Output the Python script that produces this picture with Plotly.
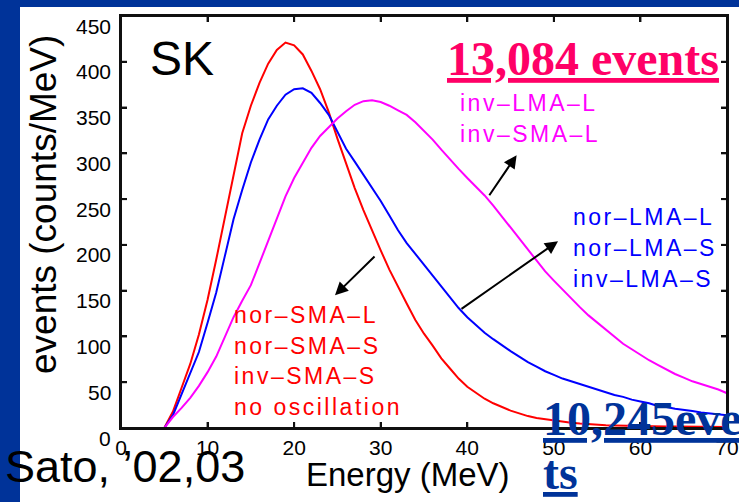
import plotly.graph_objects as go

# ---------------- data ----------------
energy = list(range(5, 71))

no_osc = [0, 18, 44, 70, 102, 140, 184, 230, 273, 322, 352, 377, 398, 413, 421, 418, 408, 390, 370, 345,
          316, 289, 262, 238, 215, 194, 173, 154, 136, 118, 103, 90, 76, 65, 54, 45, 38, 32, 27, 23,
          19, 16, 13, 11, 9.5, 8, 6.8, 5.8, 4.8, 4, 3.4, 3, 2.7, 2.4, 2.2, 2, 1.9, 1.8, 1.7, 1.6,
          1.5, 1.4, 1.3, 1.2, 1.1, 1]

nor_lma = [0, 14, 37, 60, 83, 115, 148, 188, 228, 260, 290, 315, 337, 352, 364, 370, 371, 366, 355, 342,
           324, 305, 291, 277, 263, 248, 232, 216, 202, 190, 178, 166, 154, 142, 131, 121, 112, 104, 97, 90,
           84, 78, 72, 67, 62, 58, 54, 51, 48, 45, 42, 39, 36, 34, 31, 29, 27, 24, 23, 21,
           20, 18.5, 17, 16, 15, 14]

inv_l = [0, 12, 22, 33, 46, 61, 78, 99, 121, 139, 156, 180, 205, 230, 253, 273, 290, 306, 319, 329,
         338, 346, 353, 357, 358, 356, 352, 347, 342, 334, 325, 315, 304, 293, 283, 273, 264, 254, 243, 231,
         219, 206, 194, 182, 171, 161, 151, 141, 132, 123, 115, 107, 99, 92, 86, 80, 74, 69, 64, 59,
         55, 51, 48, 45, 42, 38]

x_ticks = [0, 10, 20, 30, 40, 50, 60, 70]
y_ticks = [0, 50, 100, 150, 200, 250, 300, 350, 400, 450]

magenta_labels = ["inv–LMA–L", "inv–SMA–L"]
blue_labels = ["nor–LMA–L", "nor–LMA–S", "inv–LMA–S"]
red_labels = ["nor–SMA–L", "nor–SMA–S", "inv–SMA–S", "no oscillation"]

# label placement (data units): x, first-line y, line step
mag_pos = (38.9, 355.5, -33.9)
blue_pos = (51.98, 231.0, -33.9)
red_pos = (12.85, 122.9, -33.3)

# arrows: (tip_x, tip_y, tail_x, tail_y) in data units
arrows = [(24.72, 145, 29.46, 189),
          (50.48, 204, 39.16, 129),
          (45.7, 298, 42.43, 252.6)]

# ---------------- style ----------------
SLIDE_BLUE = "#003399"
INK = "#101010"
SANS = "Liberation Sans, Arial, sans-serif"
SERIF = "Liberation Serif, Times New Roman, serif"

W, H = 739, 502
ML, MR, MT, MB = 121, 12, 16, 74
PW, PH = W - ML - MR, H - MT - MB
TICK = 6   # px
LW = 2     # frame / tick thickness, px
X0, X1 = x_ticks[0], x_ticks[-1]
Y0, Y1 = y_ticks[0], y_ticks[-1]

fig = go.Figure()
for ys, col in [(no_osc, "#ff0000"), (nor_lma, "#0000ff"), (inv_l, "#ff00ff")]:
    fig.add_trace(go.Scatter(x=energy, y=ys, mode="lines",
                             line=dict(color=col, width=2), hoverinfo="skip"))


def px2paper(px, py):
    return (px - ML) / PW, (H - MB - py) / PH


ann = []

# y tick labels (drawn slightly below their ticks, as in the reference)
for v in y_ticks:
    ann.append(dict(x=0, y=v, xref="paper", yref="y", xanchor="right", yanchor="middle",
                    xshift=-8, yshift=-10, text=str(v), showarrow=False,
                    font=dict(family=SANS, size=21, color="black")))


def label_group(lines, pos, color):
    x0, y0, dy = pos
    for i, t in enumerate(lines):
        ann.append(dict(x=x0, y=y0 + i * dy, xref="x", yref="y", xanchor="left", yanchor="middle",
                        text='<span style="letter-spacing:2.5px">%s</span>' % t, showarrow=False,
                        font=dict(family=SANS, size=23, color=color)))


label_group(magenta_labels, mag_pos, "#ff00ff")
label_group(blue_labels, blue_pos, "#0000ff")
label_group(red_labels, red_pos, "#ff0000")

for ax_, ay_, sx, sy in arrows:
    ann.append(dict(x=ax_, y=ay_, ax=sx, ay=sy, xref="x", yref="y", axref="x", ayref="y",
                    text="", showarrow=True, arrowhead=2, arrowsize=1.3, arrowwidth=2,
                    arrowcolor="black"))

ann.append(dict(x=3.1, y=404.1, xref="x", yref="y", xanchor="left", yanchor="middle",
                text="SK", showarrow=False, font=dict(family=SANS, size=48, color="black")))

ann.append(dict(x=37.4, y=404.1, xref="x", yref="y", xanchor="left", yanchor="middle",
                text="<b><u>13,084 events</u></b>", showarrow=False,
                font=dict(family=SERIF, size=48, color="#ff0066")))

px_, py_ = px2paper(541, 418)
ann.append(dict(x=px_, y=py_, xref="paper", yref="paper", xanchor="left", yanchor="middle",
                text="<b><u>10,245eve</u></b>", showarrow=False,
                font=dict(family=SERIF, size=48, color=SLIDE_BLUE)))
px_, py_ = px2paper(541, 472)
ann.append(dict(x=px_, y=py_, xref="paper", yref="paper", xanchor="left", yanchor="middle",
                text="<b><u>ts</u></b>", showarrow=False,
                font=dict(family=SERIF, size=48, color=SLIDE_BLUE)))

px_, py_ = px2paper(3, 466)
ann.append(dict(x=px_, y=py_, xref="paper", yref="paper", xanchor="left", yanchor="middle",
                text="Sato, ’02,03", showarrow=False,
                font=dict(family=SANS, size=45, color="black")))

px_, py_ = px2paper(407.5, 474.5)
ann.append(dict(x=px_, y=py_, xref="paper", yref="paper", xanchor="center", yanchor="middle",
                text="Energy (MeV)", showarrow=False,
                font=dict(family=SANS, size=33, color="black")))

px_, py_ = px2paper(43, 205)
ann.append(dict(x=px_, y=py_, xref="paper", yref="paper", xanchor="center", yanchor="middle",
                text="events (counts/MeV)", textangle=-90, showarrow=False,
                font=dict(family=SANS, size=37, color="black")))

# ---------------- shapes: slide bars, frame and ticks (filled rects) ----------------
bx0, _ = px2paper(-5, 0)
bx1, _ = px2paper(20, 0)
_, by_top = px2paper(0, -5)
_, by_bot = px2paper(0, 510)
_, tb0 = px2paper(0, 7)
_, tb1 = px2paper(0, -5)
tbx0, _ = px2paper(-5, 0)
tbx1, _ = px2paper(760, 0)

NOLINE = dict(width=0)
shapes = [dict(type="rect", xref="paper", yref="paper", x0=bx0, x1=bx1, y0=by_bot, y1=by_top,
               fillcolor=SLIDE_BLUE, line=NOLINE, layer="above"),
          dict(type="rect", xref="paper", yref="paper", x0=tbx0, x1=tbx1, y0=tb0, y1=tb1,
               fillcolor=SLIDE_BLUE, line=NOLINE, layer="above")]

hx = (LW / 2) / PW
hy = (LW / 2) / PH
frame_bars = [(-hx, hx, -hy, 1 + hy),          # left
              (1 - hx, 1 + hx, -hy, 1 + hy),    # right
              (-hx, 1 + hx, -hy, hy),           # bottom
              (-hx, 1 + hx, 1 - hy, 1 + hy)]    # top
for a, b, c, d in frame_bars:
    shapes.append(dict(type="rect", xref="paper", yref="paper", x0=a, x1=b, y0=c, y1=d,
                       fillcolor=INK, line=NOLINE, layer="above"))

tly = TICK / PH
tlx = TICK / PW
for v in x_ticks[1:-1]:
    for (c, d) in [(0, tly), (1 - tly, 1)]:
        shapes.append(dict(type="rect", xref="x", yref="paper", xsizemode="pixel", xanchor=v,
                           x0=-LW / 2, x1=LW / 2, y0=c, y1=d,
                           fillcolor=INK, line=NOLINE, layer="above"))
for v in y_ticks[1:-1]:
    for (a, b) in [(0, tlx), (1 - tlx, 1)]:
        shapes.append(dict(type="rect", xref="paper", yref="y", ysizemode="pixel", yanchor=v,
                           y0=-LW / 2, y1=LW / 2, x0=a, x1=b,
                           fillcolor=INK, line=NOLINE, layer="above"))

fig.update_layout(
    width=W, height=H,
    margin=dict(l=ML, r=MR, t=MT, b=MB),
    paper_bgcolor="white", plot_bgcolor="white",
    showlegend=False,
    annotations=ann,
    shapes=shapes,
    xaxis=dict(range=[X0, X1], tickvals=x_ticks, ticktext=[str(v) for v in x_ticks],
               ticks="inside", ticklen=TICK, tickwidth=LW, tickcolor=INK,
               showline=True, linewidth=LW, linecolor=INK, mirror="ticks",
               showgrid=False, zeroline=False, automargin=False,
               tickfont=dict(family=SANS, size=21, color="black")),
    yaxis=dict(range=[Y0, Y1], tickvals=y_ticks, showticklabels=False,
               ticks="inside", ticklen=TICK, tickwidth=LW, tickcolor=INK,
               showline=True, linewidth=LW, linecolor=INK, mirror="ticks",
               showgrid=False, zeroline=False, automargin=False),
)

fig.write_html("out.html", config={"displayModeBar": False},
               post_script="document.body.style.margin='0px';document.body.style.padding='0px';")
